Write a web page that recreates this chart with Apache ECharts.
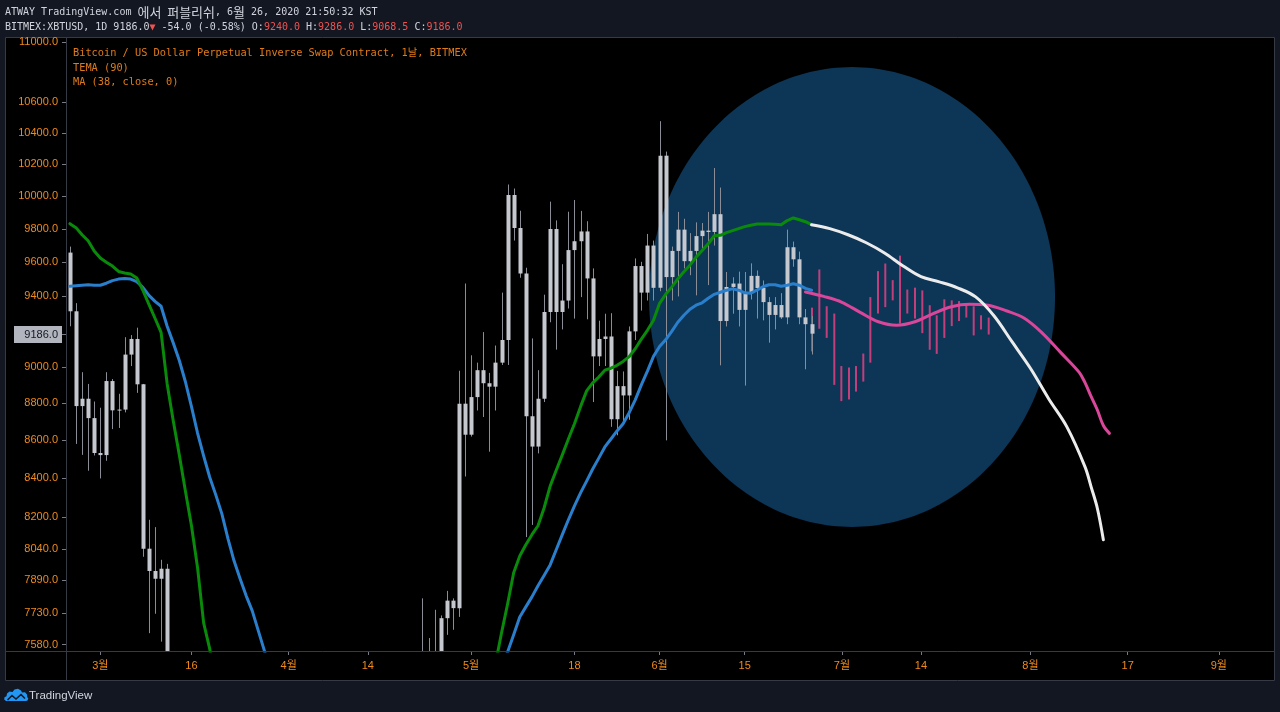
<!DOCTYPE html>
<html>
<head>
<meta charset="utf-8">
<title>BITMEX:XBTUSD</title>
<script src="https://cdn.jsdelivr.net/npm/echarts@6.0.0/dist/echarts.min.js"></script>
<style>
html,body{margin:0;padding:0;background:#131722;overflow:hidden;}
#chart{width:1280px;height:712px;}
</style>
</head>
<body>
<div id="chart"></div>
<script>
// Day numbers = days since 2020-03-01 (day 0). Daily candles run from 2020-02-25 (day -5) to 2020-06-26 (day 117).
const FIRST_DAY = -5;

const candleOpen = [
  9658, 9314, 8784, 8824, 8719, 8533, 8522, 8921, 8761, 8765, 9068, 9156, 8903, 8043, 7933, 7895, 7944,
  4800, 5600, 5180, 5380, 5000, 5340, 5400, 6200, 6200, 6180, 5830, 6490, 6750, 6700, 6760, 6370, 6250, 5880, 6400, 6420,
  6640, 6800, 6740, 6860, 6780, 7330, 7200, 7370, 7290, 6870, 6890, 6910, 6850, 6860, 6640, 7110, 7040, 7260, 7130, 6860, 6880,
  7130, 7490, 7530, 7540, 7705, 7789, 7753, 8797, 8630, 8833, 8981, 8909, 8890, 9023, 9150, 10008, 9806, 9534, 8729, 8567,
  8824, 9310, 9800, 9310, 9376, 9673, 9726, 9785, 9505, 9058, 9156, 9170, 8713, 8893, 8842, 9199, 9578, 9422, 9700, 9450,
  10254, 9513, 9668, 9796, 9607, 9668, 9757, 9790, 9782, 9890, 9258, 9455, 9475, 9322, 9419, 9520, 9449, 9367, 9293, 9350,
  9279, 9690, 9618, 9279, 9240
];
const candleClose = [
  9314, 8784, 8824, 8719, 8533, 8522, 8921, 8761, 8765, 9068, 9156, 8903, 8043, 7933, 7895, 7944, 4800,
  5600, 5180, 5380, 5000, 5340, 5400, 6200, 6200, 6180, 5830, 6490, 6750, 6700, 6760, 6370, 6250, 5880, 6400, 6420, 6640,
  6800, 6740, 6860, 6780, 7330, 7200, 7370, 7290, 6870, 6890, 6910, 6850, 6860, 6640, 7110, 7040, 7260, 7130, 6860, 6880, 7130,
  7490, 7530, 7540, 7705, 7789, 7753, 8797, 8630, 8833, 8981, 8909, 8890, 9023, 9150, 10008, 9806, 9534, 8729, 8567, 8824,
  9310, 9800, 9310, 9376, 9673, 9726, 9785, 9505, 9058, 9156, 9170, 8713, 8893, 8842, 9199, 9578, 9422, 9700, 9450, 10254,
  9513, 9668, 9796, 9607, 9668, 9757, 9790, 9782, 9890, 9258, 9455, 9475, 9322, 9419, 9520, 9449, 9367, 9293, 9350, 9279,
  9690, 9618, 9279, 9240, 9186
];
const candleHigh = [
  9694, 9361, 8970, 8905, 8809, 8775, 8970, 8932, 8851, 9166, 9178, 9220, 8905, 8188, 8151, 7988, 7968,
  5950, 5650, 5900, 5390, 5550, 5450, 6900, 6900, 6450, 6400, 6600, 6850, 6990, 6800, 6870, 6380, 6270, 6600, 6520, 6680,
  7200, 7000, 6990, 6880, 7370, 7460, 7420, 7380, 7300, 6950, 7190, 6910, 6980, 6930, 7180, 7150, 7310, 7270, 7230, 6950, 7170,
  7800, 7611, 7745, 7718, 7836, 7800, 8978, 9475, 9064, 9023, 9195, 8966, 9119, 9422, 10073, 10048, 9911, 9568, 9159, 8981,
  9410, 9967, 9852, 9589, 9905, 9977, 9910, 9847, 9564, 9260, 9300, 9303, 8977, 8974, 9227, 9623, 9603, 9770, 9730, 10475,
  10280, 9694, 9904, 9862, 9775, 9840, 9836, 9904, 10176, 10054, 9543, 9512, 9545, 9543, 9594, 9552, 9493, 9396, 9396, 9419,
  9796, 9724, 9664, 9327, 9286
];
const candleLow = [
  9228, 8581, 8523, 8440, 8520, 8400, 8492, 8660, 8666, 8750, 9004, 8856, 8003, 7634, 7726, 7594, 3850,
  3600, 5100, 5100, 4450, 4950, 5080, 5300, 5700, 5800, 5770, 5700, 6400, 6460, 6550, 6250, 6020, 5870, 5860, 6350, 6160,
  6580, 6650, 6670, 6680, 6770, 7080, 7150, 7110, 6750, 6780, 6800, 6550, 6780, 6630, 6470, 7000, 7030, 7080, 6800, 6810, 6870,
  7030, 7420, 7450, 7470, 7626, 7650, 7711, 8410, 8620, 8760, 8725, 8540, 8760, 9010, 9010, 9730, 9509, 8101, 8162, 8531,
  8806, 9251, 9096, 9210, 9330, 9272, 9396, 9268, 8806, 9004, 9004, 8672, 8627, 8700, 8710, 9150, 9318, 9376, 9376, 9430,
  8600, 9376, 9400, 9564, 9524, 9406, 9680, 9466, 9700, 9008, 9227, 9300, 9227, 8896, 9382, 9272, 9262, 9135, 9210, 9270,
  9240, 9574, 9240, 8986, 9068.5
];

// TEMA (90), one value per candle
const temaValues = [
  9832, 9808, 9765, 9729, 9668, 9626, 9601, 9578, 9546, 9537, 9531, 9508, 9436, 9354, 9274, 9193, 8905, 8705, 8523, 8335,
  8158, 7949, 7683, 7560,
  7400, 7230, 7060, 6890, 6730, 6590, 6460, 6350, 6260, 6190, 6140, 6110, 6100, 6110, 6130, 6170, 6220, 6280, 6350, 6420,
  6490, 6560, 6620, 6680, 6730, 6780, 6820, 6860, 6890, 6920, 6950, 6980, 7010, 7040, 7080, 7120, 7160, 7200, 7240, 7280,
  7320, 7350, 7380, 7400, 7420, 7450, 7491,
  7635, 7773, 7924, 8007, 8063, 8113, 8158, 8248, 8360, 8443, 8523, 8607, 8689, 8781, 8867, 8911, 8943, 8981, 8992, 9008,
  9030, 9057, 9101, 9155, 9205, 9262, 9360, 9412, 9454, 9502, 9544, 9583, 9631, 9670, 9711, 9759, 9762, 9778, 9790, 9802,
  9814, 9823, 9830, 9830, 9830, 9829, 9826, 9851, 9867, 9856, 9844, 9826
];
// MA (38, close, 0), one value per candle
const maValues = [
  9459, 9462, 9465, 9468, 9465, 9465, 9477, 9492, 9501, 9505, 9501, 9486, 9453, 9406, 9371, 9343, 9228, 9134, 9035, 8917,
  8781, 8639, 8518, 8406, 8315, 8218, 8093, 7983, 7895, 7812, 7740, 7645, 7551,
  7450, 7350, 7260, 7180, 7100, 7020, 6950, 6880, 6820, 6760, 6710, 6660, 6620, 6590, 6560, 6540, 6530, 6530, 6540, 6560,
  6590, 6630, 6670, 6720, 6770, 6820, 6870, 6920, 6970, 7020, 7070, 7120, 7170, 7220, 7270, 7320, 7370, 7420, 7468,
  7546, 7626, 7711, 7759, 7807, 7861, 7911, 7963, 8038, 8113, 8188, 8259, 8325, 8386, 8449, 8506, 8565, 8607, 8650, 8689,
  8748, 8818, 8900, 8976, 9058, 9113, 9151, 9199, 9251, 9291, 9326, 9349, 9363, 9389, 9412, 9424, 9436, 9444, 9436, 9421,
  9419, 9436, 9456, 9468, 9468, 9459, 9465, 9474, 9465, 9447, 9436
];

// Projected paths drawn after the last candle
const temaProjDays   = [117, 120, 123, 126, 129, 132, 135, 138, 141, 144, 147, 150, 153, 156, 159, 162, 163, 164, 165];
const temaProjValues = [9826, 9802, 9765, 9717, 9656, 9580, 9515, 9485, 9450, 9397, 9288, 9139, 8992, 8824, 8672, 8459, 8355, 8248, 8088];
const maProjDays   = [116, 119, 122, 125, 128, 131, 134, 137, 140, 143, 146, 149, 152, 155, 158, 161, 162, 163, 164, 165, 166];
const maProjValues = [9426, 9400, 9366, 9308, 9254, 9234, 9254, 9301, 9340, 9354, 9349, 9317, 9274, 9188, 9079, 8970, 8911, 8835, 8764, 8679, 8637];

// Projected bar pattern (high-low bars)
const patternDays = [117.07, 118.28, 119.49, 120.74, 121.90, 123.16, 124.31, 125.51, 126.67, 127.93, 129.13, 130.35, 131.55,
  132.75, 134.02, 135.22, 136.44, 137.59, 138.84, 140.06, 141.26, 142.46, 143.67, 144.88, 146.14];
const patternHigh = [9335, 9558, 9343, 9301, 9004, 8996, 9004, 9074, 9396, 9548, 9593, 9495, 9640, 9440, 9451, 9435, 9349,
  9291, 9383, 9377, 9373, 9349, 9343, 9291, 9278];
const patternLow = [9086, 9214, 9162, 8900, 8811, 8820, 8863, 8918, 9023, 9301, 9338, 9377, 9243, 9301, 9272, 9189, 9095,
  9072, 9162, 9229, 9258, 9278, 9176, 9210, 9181];

// Ellipse annotation bounds (days, prices)
const ellipseLeftDay = 90.26, ellipseRightDay = 157.05;
const ellipseTopPrice = 10831, ellipseBottomPrice = 8152;

// Axes
const xTickDays   = [0, 15, 31, 44, 61, 78, 92, 106, 122, 135, 153, 169, 184];
const xTickLabels = ['3월', '16', '4월', '14', '5월', '18', '6월', '15', '7월', '14', '8월', '17', '9월'];
const yTickValues = [11000, 10600, 10400, 10200, 10000, 9800, 9600, 9400, 9000, 8800, 8600, 8400, 8200, 8040, 7890, 7730, 7580];
const xMinDay = -5.64, xMaxDay = 193.07;
const yMinPrice = 7550.3, yMaxPrice = 11027.5;
const lastClose = 9186.0;

// ---------- build ----------
const LN = Math.log;
const candleData = candleOpen.map((o, i) => [FIRST_DAY + i, LN(o), LN(candleClose[i]), LN(candleLow[i]), LN(candleHigh[i])]);
const temaData = temaValues.map((v, i) => [FIRST_DAY + i, LN(v)]);
const maData = maValues.map((v, i) => [FIRST_DAY + i, LN(v)]);
const temaProjData = temaProjDays.map((d, i) => [d, LN(temaProjValues[i])]);
const maProjData = maProjDays.map((d, i) => [d, LN(maProjValues[i])]);
const patternData = patternDays.map((d, i) => [d, LN(patternHigh[i]), LN(patternLow[i])]);
const ellipseData = [[ellipseLeftDay, ellipseRightDay, LN(ellipseTopPrice), LN(ellipseBottomPrice)]];

const ORANGE = '#f08a1c';
const LEGEND_ORANGE = '#e07a18';
const MONO = '"DejaVu Sans Mono", "Noto Sans CJK KR", monospace';
const SANS = '"Liberation Sans", "Noto Sans CJK KR", sans-serif';

const chart = echarts.init(document.getElementById('chart'), null, { renderer: 'canvas' });

function renderCandle(params, api) {
  const d = api.value(0);
  const pO = api.coord([d, api.value(1)]);
  const pC = api.coord([d, api.value(2)]);
  const pL = api.coord([d, api.value(3)]);
  const pH = api.coord([d, api.value(4)]);
  const step = api.size([1, 0])[0];
  const bw = Math.max(2, Math.round(step * 0.7));
  const x = Math.round(pO[0]);
  const top = Math.min(pO[1], pC[1]);
  const h = Math.max(1, Math.abs(pO[1] - pC[1]));
  return {
    type: 'group',
    children: [
      { type: 'line', shape: { x1: x + 0.5, y1: pH[1], x2: x + 0.5, y2: pL[1] }, style: { stroke: '#8a8d96', lineWidth: 1 } },
      { type: 'rect', shape: { x: x + 0.5 - bw / 2, y: top, width: bw, height: h }, style: { fill: '#c6c8cf' } }
    ]
  };
}

function renderPattern(params, api) {
  const a = api.coord([api.value(0), api.value(1)]);
  const b = api.coord([api.value(0), api.value(2)]);
  return { type: 'line', shape: { x1: a[0], y1: a[1], x2: b[0], y2: b[1] }, style: { stroke: '#c23f7c', lineWidth: 2 } };
}

// Ellipse drawn as a polygon inside the box spanned by two data-space corners
function renderEllipse(params, api) {
  const a = api.coord([api.value(0), api.value(2)]);
  const b = api.coord([api.value(1), api.value(3)]);
  const cx = (a[0] + b[0]) / 2, cy = (a[1] + b[1]) / 2;
  const rx = Math.abs(b[0] - a[0]) / 2, ry = Math.abs(b[1] - a[1]) / 2;
  const pts = [];
  for (let k = 0; k < 240; k++) {
    const t = (k / 240) * Math.PI * 2;
    pts.push([cx + rx * Math.cos(t), cy + ry * Math.sin(t)]);
  }
  return { type: 'polygon', shape: { points: pts }, style: { fill: '#0d3556' } };
}

const headerLine2 =
  '{g|BITMEX:XBTUSD, 1D 9186.0}{r|▼}{g| -54.0 (-0.58%) O:}{r|9240.0}{g| H:}{r|9286.0}{g| L:}{r|9068.5}{g| C:}{r|9186.0}';

const logoCloud = [[6, 701], [4.2, 699.5], [4.5, 697.2], [6.5, 696.2], [7, 693.5], [9.5, 691.5], [12.5, 692], [14.5, 689.5],
  [18, 688.7], [21, 690.5], [22, 692.5], [25, 692.3], [27, 694.5], [27.2, 697], [28.3, 698.5], [27.5, 700.5], [26, 701]];

const staticGraphics = [
  { type: 'rect', z: -10, shape: { x: 5.5, y: 37.5, width: 1269, height: 643 }, style: { fill: '#000000', stroke: '#363a45', lineWidth: 1 } },
  { type: 'line', z: 50, shape: { x1: 66.5, y1: 37.5, x2: 66.5, y2: 680.5 }, style: { stroke: '#363a45', lineWidth: 1 } },
  { type: 'line', z: 50, shape: { x1: 5.5, y1: 651.5, x2: 1274.5, y2: 651.5 }, style: { stroke: '#363a45', lineWidth: 1 } },
  { type: 'text', z: 50, x: 5, y: 12, style: {
      text: '{a|ATWAY TradingView.com }{k|에서  퍼블리쉬}{a|, 6}{k|월}{a| 26, 2020 21:50:32 KST}',
      font: '10px ' + MONO, verticalAlign: 'middle', align: 'left',
      rich: {
        a: { fill: '#d1d4dc', color: '#d1d4dc', font: '10px ' + MONO },
        k: { fill: '#d1d4dc', color: '#d1d4dc', font: '13px "Noto Sans CJK KR"' }
      } } },
  { type: 'text', z: 50, x: 5, y: 27, style: {
      text: headerLine2, font: '10px ' + MONO, verticalAlign: 'middle', align: 'left',
      rich: {
        g: { fill: '#d1d4dc', color: '#d1d4dc', font: '10px ' + MONO },
        r: { fill: '#ef5350', color: '#ef5350', font: '10px ' + MONO }
      } } },
  { type: 'text', z: 50, x: 73, y: 53, style: { text: 'Bitcoin / US Dollar Perpetual Inverse Swap Contract, 1날, BITMEX', fill: LEGEND_ORANGE, font: '10.3px ' + MONO, verticalAlign: 'middle' } },
  { type: 'text', z: 50, x: 73, y: 68, style: { text: 'TEMA (90)', fill: LEGEND_ORANGE, font: '10.3px ' + MONO, verticalAlign: 'middle' } },
  { type: 'text', z: 50, x: 73, y: 82, style: { text: 'MA (38, close, 0)', fill: LEGEND_ORANGE, font: '10.3px ' + MONO, verticalAlign: 'middle' } },
  { type: 'polygon', z: 50, shape: { points: logoCloud }, style: { fill: '#2196f3' } },
  { type: 'polyline', z: 51, shape: { points: [[7.5, 700], [12, 695.5], [16, 699], [21, 694.5], [25, 698.5]] }, style: { stroke: '#131722', lineWidth: 1.6, fill: null } },
  { type: 'text', z: 50, x: 29, y: 696, style: { text: 'TradingView', fill: '#d1d4dc', font: '11.5px "Liberation Sans", sans-serif', verticalAlign: 'middle' } }
];

const option = {
  animation: false,
  backgroundColor: '#131722',
  grid: { left: 66, right: 6, top: 38, bottom: 61 },
  xAxis: {
    type: 'value', min: xMinDay, max: xMaxDay,
    splitLine: { show: false },
    axisLine: { show: false, onZero: false },
    axisTick: { show: true, length: 4, customValues: xTickDays, lineStyle: { color: '#787b86' } },
    axisLabel: {
      customValues: xTickDays, color: ORANGE, fontSize: 11, fontFamily: SANS, margin: 9,
      formatter: function (v) {
        const i = xTickDays.findIndex(d => Math.abs(d - v) < 1e-6);
        return i >= 0 ? xTickLabels[i] : '';
      }
    }
  },
  yAxis: {
    type: 'value', min: LN(yMinPrice), max: LN(yMaxPrice), position: 'left',
    splitLine: { show: false },
    axisLine: { show: false, onZero: false },
    axisTick: { show: true, length: 4, customValues: yTickValues.map(LN), lineStyle: { color: '#787b86' } },
    axisLabel: {
      customValues: yTickValues.map(LN), color: ORANGE, fontSize: 11, fontFamily: SANS, margin: 8,
      formatter: function (v) { return Math.exp(v).toFixed(1); }
    }
  },
  graphic: staticGraphics,
  series: [
    { type: 'custom', name: 'ellipse', z: 1, data: ellipseData, renderItem: renderEllipse, clip: false, silent: true },
    { type: 'custom', name: 'pattern', z: 3, data: patternData, renderItem: renderPattern, clip: true, silent: true },
    { type: 'custom', name: 'XBTUSD', z: 4, data: candleData, renderItem: renderCandle, clip: true, silent: true,
      encode: { x: 0, y: [1, 2, 3, 4] } },
    { type: 'line', name: 'MA (38, close, 0)', z: 5, data: maData, symbol: 'none', clip: true, silent: true,
      lineStyle: { color: '#2a7fcc', width: 3, join: 'round', cap: 'round' } },
    { type: 'line', name: 'TEMA (90)', z: 6, data: temaData, symbol: 'none', clip: true, silent: true,
      lineStyle: { color: '#0a8a0a', width: 3, join: 'round', cap: 'round' } },
    { type: 'line', name: 'MA projection', z: 7, data: maProjData, symbol: 'none', smooth: 0.35, clip: true, silent: true,
      lineStyle: { color: '#d9469a', width: 3, join: 'round', cap: 'round' } },
    { type: 'line', name: 'TEMA projection', z: 8, data: temaProjData, symbol: 'none', smooth: 0.35, clip: true, silent: true,
      lineStyle: { color: '#ececec', width: 3, join: 'round', cap: 'round' } }
  ]
};

chart.setOption(option);

// last-price label on the price axis, positioned from the axis scale
const py = chart.convertToPixel({ yAxisIndex: 0 }, LN(lastClose));
chart.setOption({
  graphic: staticGraphics.concat([
    { type: 'rect', z: 60, shape: { x: 14, y: Math.round(py) - 8, width: 48, height: 17 }, style: { fill: '#b2b5be' } },
    { type: 'text', z: 61, x: 58, y: Math.round(py) + 0.5, style: { text: lastClose.toFixed(1), fill: '#131722', font: '11px ' + SANS, align: 'right', verticalAlign: 'middle' } },
    { type: 'line', z: 61, shape: { x1: 62, y1: Math.round(py) + 0.5, x2: 66, y2: Math.round(py) + 0.5 }, style: { stroke: '#787b86', lineWidth: 1 } }
  ])
});
</script>
</body>
</html>
